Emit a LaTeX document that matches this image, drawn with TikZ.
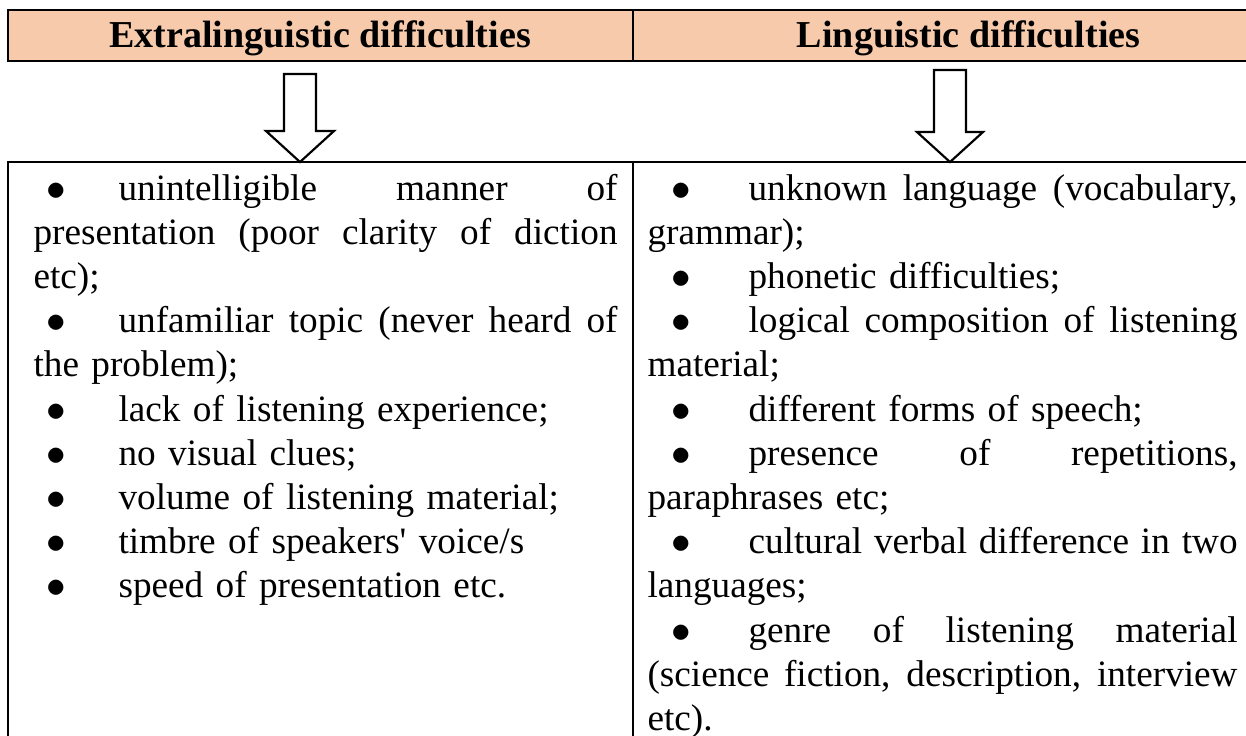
\documentclass[tikz,border=0pt]{standalone}
\usepackage{fontspec}
\setmainfont{Liberation Serif}
\newfontfamily\cellfont{Liberation Serif}
\newlength{\pxu}
\setlength{\pxu}{0.368pt}
\definecolor{hdrfill}{RGB}{247,202,172}
% bullet boxes for the two columns
\newcommand{\bulL}{\makebox[85\pxu][l]{\hspace{12.7\pxu}$\bullet$}}
\newcommand{\bulR}{\makebox[101\pxu][l]{\hspace{23.7\pxu}$\bullet$}}
% justified line (optional arg = column width)
\newcommand{\jl}[2][584\pxu]{\makebox[#1][s]{\spaceskip=0.25em plus 1fil\relax #2}}
\tikzset{
  rule/.style={line width=1pt},
  blkarrow/.style={draw, line width=0.8pt, fill=white, line join=miter},
  hdrtext/.style={inner sep=0pt, font=\cellfont\fontsize{14}{16.27}\selectfont\bfseries},
  listtext/.style={anchor=base west, inner sep=0pt, font=\cellfont\fontsize{13.7}{16.27}\selectfont},
}
\begin{document}
\begin{tikzpicture}[x=0.368pt,y=0.368pt,yscale=-1,xscale=1]
		\useasboundingbox (0,0) rectangle (1246,735);
		\clip (0,0) rectangle (1246,735);
		% header row
		\fill [hdrfill] (8,10) rectangle (1246,61);
		\draw [rule] (1246,10) -- (8,10) -- (8,61) -- (1246,61);
		\draw [rule] (633,10) -- (633,61);
		\node (hdrL) at (320,47) [hdrtext, anchor=base] {Extralinguistic difficulties};
		\node (hdrR) at (1141,47) [hdrtext, anchor=base east] {Linguistic difficulties};
		% block arrows
		\draw [blkarrow] (284,74) -- (316,74) -- (316,131) -- (334,131) -- (300,162) -- (266,131) -- (284,131) -- cycle;
		\draw [blkarrow] (934,70) -- (966,70) -- (966,132) -- (983,132) -- (950,162) -- (917,132) -- (934,132) -- cycle;
		% lower table
		\draw [rule] (1246,162) -- (8,162) -- (8,740);
		\draw [rule] (633,162) -- (633,740);
		\node (listL) at (33,200) [listtext, text width=584\pxu] {%
\jl{\bulL unintelligible manner of}\\
\jl{presentation (poor clarity of diction}\\
etc);\\
\jl{\bulL unfamiliar topic (never heard of}\\
the problem);\\
\bulL lack of listening experience;\\
\bulL no visual clues;\\
\bulL volume of listening material;\\
\bulL timbre of speakers' voice/s\\
\bulL speed of presentation etc.};
		\node (listR) at (647,200) [listtext, text width=590\pxu] {%
\jl[590\pxu]{\bulR unknown language (vocabulary,}\\
grammar);\\
\bulR phonetic difficulties;\\
\jl[590\pxu]{\bulR logical composition of listening}\\
material;\\
\bulR different forms of speech;\\
\jl[590\pxu]{\bulR presence of repetitions,}\\
paraphrases etc;\\
\jl[590\pxu]{\bulR cultural verbal difference in two}\\
languages;\\
\jl[590\pxu]{\bulR genre of listening material}\\
\jl[590\pxu]{(science fiction, description, interview}\\
etc).};
\end{tikzpicture}
\end{document}
